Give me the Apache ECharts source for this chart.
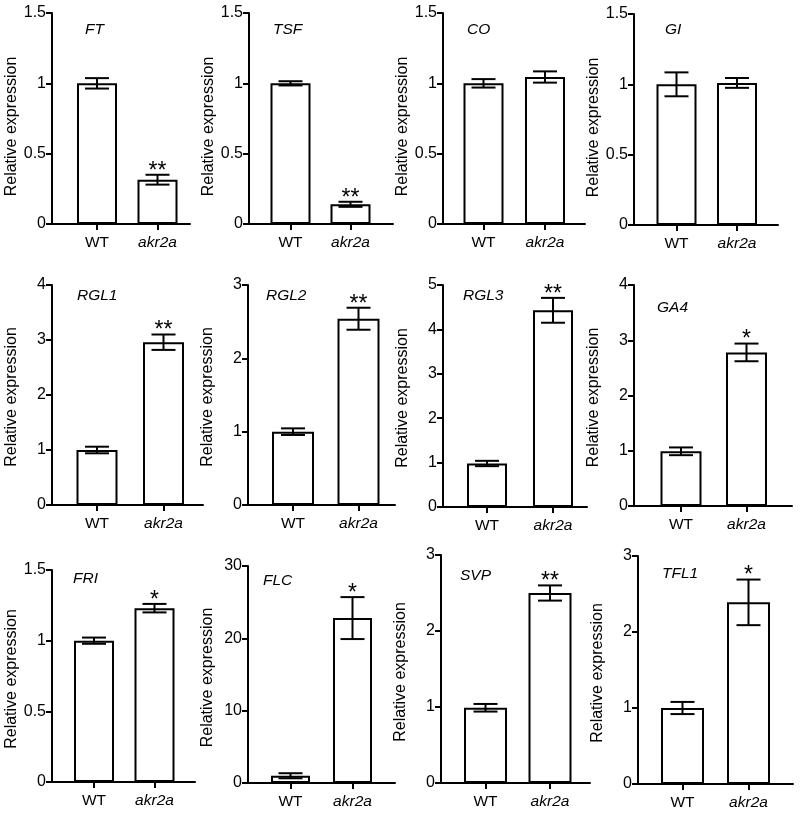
<!DOCTYPE html>
<html>
<head>
<meta charset="utf-8">
<script src="https://cdn.jsdelivr.net/npm/echarts@6/dist/echarts.min.js"></script>
<style>
html,body{margin:0;padding:0;background:#fff;}
#c{width:800px;height:819px;}
</style>
</head>
<body>
<div id="c"></div>
<script>
// ---- data ----
const categories = ['WT', 'akr2a'];
const genes = ['FT', 'TSF', 'CO', 'GI', 'RGL1', 'RGL2', 'RGL3', 'GA4', 'FRI', 'FLC', 'SVP', 'TFL1'];
const wtMean  = [1.0, 1.0, 1.0, 1.0, 1.0, 1.0, 0.98, 0.99, 1.0, 1.0, 0.99, 1.0];
const wtErr   = [0.037, 0.015, 0.03, 0.085, 0.06, 0.045, 0.06, 0.07, 0.022, 0.35, 0.05, 0.08];
const mutMean = [0.315, 0.14, 1.045, 1.01, 2.96, 2.54, 4.43, 2.78, 1.23, 22.8, 2.5, 2.39];
const mutErr  = [0.035, 0.018, 0.04, 0.035, 0.14, 0.15, 0.28, 0.16, 0.03, 2.9, 0.1, 0.3];
const sig     = ['**', '**', '', '', '**', '**', '**', '*', '*', '*', '**', '*'];
const yMax      = [1.5, 1.5, 1.5, 1.5, 4, 3, 5, 4, 1.5, 30, 3, 3];
const yInterval = [0.5, 0.5, 0.5, 0.5, 1, 1, 1, 1, 0.5, 10, 1, 1];
const yName = 'Relative expression';

// ---- layout (pixels) ----
const layout = [
  {l:52,  t:13,  b:224, r:190, wt:97,    mu:157.5, bw:40, tx:85,  ty:22,  ns:8},
  {l:249, t:13,  b:224, r:393, wt:290.5, mu:350.5, bw:40, tx:273, ty:22,  ns:8},
  {l:443, t:13,  b:224, r:585, wt:483.5, mu:545,   bw:40, tx:467, ty:22,  ns:8},
  {l:634, t:14,  b:225, r:778, wt:676.5, mu:737,   bw:40, tx:665, ty:22,  ns:8},
  {l:52,  t:285, b:505, r:203, wt:97,    mu:163.5, bw:41, tx:77,  ty:288, ns:2},
  {l:248, t:285, b:505, r:395, wt:293,   mu:358.5, bw:42, tx:266, ty:288, ns:2},
  {l:443, t:285, b:507, r:587, wt:487,   mu:553,   bw:40, tx:463, ty:288, ns:2},
  {l:634, t:285, b:506, r:792, wt:681,   mu:746.5, bw:41, tx:657, ty:300, ns:2},
  {l:52,  t:570, b:782, r:195, wt:94,    mu:154.5, bw:40, tx:73,  ty:571, ns:3},
  {l:248, t:566, b:783, r:395, wt:290.5, mu:352.5, bw:39, tx:263, ty:573, ns:3},
  {l:441, t:555, b:783, r:590, wt:485.5, mu:550,   bw:43, tx:460, ty:568, ns:3},
  {l:638, t:556, b:784, r:793, wt:682.5, mu:748.5, bw:43, tx:662, ty:566, ns:3}
];

const FONT = 'Arial, "Liberation Sans", Helvetica, sans-serif';
const grids = [], xAxes = [], yAxes = [], series = [], titles = [];

genes.forEach((g, i) => {
  const L = layout[i];
  const sp = L.mu - L.wt;
  const xmin = 1 - (L.wt - L.l) / sp;
  const xmax = xmin + (L.r - L.l) / sp;
  const positions = categories.map((c, k) => k + 1);
  grids.push({left: L.l, top: L.t, width: L.r - L.l, height: L.b - L.t, containLabel: false, outerBoundsMode: 'none'});
  xAxes.push({
    gridIndex: i, type: 'value', min: xmin, max: xmax,
    splitLine: {show: false},
    axisLine: {show: true, onZero: false, lineStyle: {color: '#000', width: 2}},
    axisTick: {show: true, inside: false, length: 6, customValues: positions, lineStyle: {color: '#000', width: 2}},
    axisLabel: {
      show: true, customValues: positions, margin: 11, color: '#000', fontSize: 15.5, fontFamily: FONT,
      formatter: v => {
        const k = Math.round(v) - 1;
        return k === 0 ? categories[k] : '{i|' + categories[k] + '}';
      },
      rich: {i: {fontStyle: 'italic', fontSize: 15.5, fontFamily: FONT, color: '#000'}}
    }
  });
  yAxes.push({
    gridIndex: i, type: 'value', min: 0, max: yMax[i], interval: yInterval[i],
    splitLine: {show: false},
    axisLine: {show: true, lineStyle: {color: '#000', width: 2}},
    axisTick: {show: true, inside: false, length: 6, lineStyle: {color: '#000', width: 2}},
    axisLabel: {color: '#000', fontSize: 16, fontFamily: FONT, margin: 6},
    name: yName, nameLocation: 'middle', nameGap: 32,
    nameTextStyle: {color: '#000', fontSize: 16, fontFamily: FONT, padding: [0, 2 * L.ns, 0, 0]}
  });
  titles.push({
    text: g, left: L.tx, top: L.ty, padding: 0,
    textStyle: {fontStyle: 'italic', fontWeight: 'normal', fontSize: 15.5, fontFamily: FONT, color: '#000'}
  });
  const means = [wtMean[i], mutMean[i]];
  const errs = [wtErr[i], mutErr[i]];
  series.push({
    type: 'bar', xAxisIndex: i, yAxisIndex: i, barWidth: L.bw,
    itemStyle: {color: '#fff', borderColor: '#000', borderWidth: 2},
    data: positions.map((p, k) => [p, means[k]]),
    silent: true, animation: false, z: 2
  });
  series.push({
    type: 'custom', xAxisIndex: i, yAxisIndex: i, clip: false, silent: true, animation: false, z: 5,
    data: positions.map((p, k) => [p, means[k], errs[k]]),
    renderItem: (params, api) => {
      const x = api.value(0), m = api.value(1), e = api.value(2);
      const top = api.coord([x, m + e]);
      const bot = api.coord([x, m - e]);
      const half = 12;
      const st = {stroke: '#000', lineWidth: 2};
      const children = [
        {type: 'line', shape: {x1: top[0], y1: top[1], x2: bot[0], y2: bot[1]}, style: st},
        {type: 'line', shape: {x1: top[0] - half, y1: top[1], x2: top[0] + half, y2: top[1]}, style: st},
        {type: 'line', shape: {x1: bot[0] - half, y1: bot[1], x2: bot[0] + half, y2: bot[1]}, style: st}
      ];
      if (params.dataIndex === 1 && sig[i]) {
        children.push({
          type: 'text',
          style: {text: sig[i], x: top[0], y: top[1] + 8, align: 'center', verticalAlign: 'bottom',
                  fontSize: 23, fontFamily: FONT, fill: '#000'}
        });
      }
      return {type: 'group', children: children};
    }
  });
});

const chart = echarts.init(document.getElementById('c'), null, {renderer: 'canvas'});
chart.setOption({
  backgroundColor: '#fff',
  animation: false,
  title: titles,
  grid: grids,
  xAxis: xAxes,
  yAxis: yAxes,
  series: series
});
</script>
</body>
</html>
